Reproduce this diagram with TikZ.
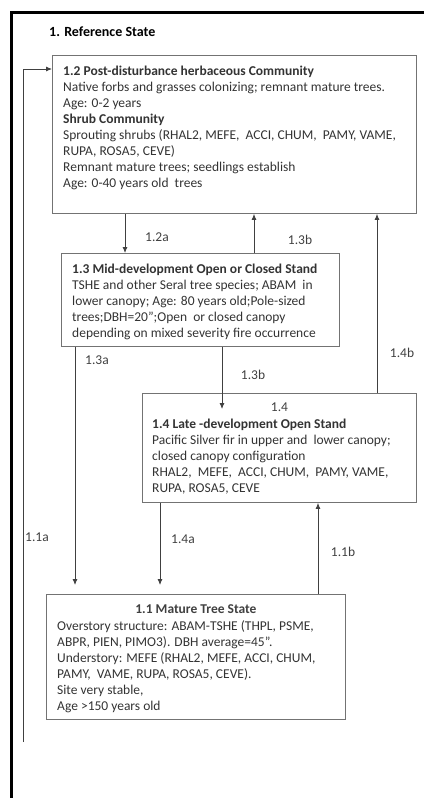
\documentclass[tikz,border=0pt]{standalone}
\usepackage{fontspec}
\setmainfont{Carlito}
\usetikzlibrary{positioning,arrows.meta}

\tikzset{
  box/.style={draw=black!55, line width=0.9pt, anchor=north west, inner sep=0pt},
  txt/.style={anchor=north west, inner sep=0pt, align=left, text=black!80,
    font=\fontsize{13.5}{16}\selectfont},
  lbl/.style={inner sep=0pt, text=black!75, font=\fontsize{13.5}{15}\selectfont},
  flow/.style={draw=black!75, line width=0.8pt, -{Latex[length=6pt,width=5pt]}},
}

\begin{document}
\begin{tikzpicture}[x=1pt,y=-1pt]

  \useasboundingbox (0,0) rectangle (424,798);

  % outer frame, cut at the page edge
  \draw[line width=3pt] (11.5,798) -- (11.5,12) -- (424,12);
  \node[anchor=west, inner sep=0pt, font=\bfseries\fontsize{14}{17}\selectfont]
    (title) at (49,32) {1. Reference State};

  % boxes
  \node[box, minimum width=364pt, minimum height=158pt] (b12) at (52,55) {};
  \node[box, minimum width=278pt, minimum height=93pt]  (b13) at (61,253) {};
  \node[box, minimum width=274pt, minimum height=109pt] (b14) at (142,393) {};
  \node[box, minimum width=299pt, minimum height=125pt] (b11) at (46,594) {};

  % texts
  \node[txt, below right=11pt and 11pt of b12.north west] (t12) {%
    \textbf{1.2 Post-disturbance\ herbaceous\ Community}\\
    Native forbs and grasses colonizing; remnant mature trees.\\
    Age: 0-2 years\\
    \textbf{Shrub Community}\\
    Sprouting shrubs (RHAL2, MEFE,\ \ ACCI, CHUM,\ \ PAMY, VAME,\\
    RUPA, ROSA5,\ CEVE)\\
    Remnant mature trees; seedlings establish\\
    Age: 0-40 years old\ \ trees};
  \node[txt, below right=11pt and 11pt of b13.north west] (t13) {%
    \textbf{1.3 Mid-development Open or Closed Stand}\\
    TSHE and other Seral tree species; ABAM\ \ in\\
    lower canopy; Age: 80 years old;Pole-sized\\
    trees;DBH=20";Open\ \ or closed canopy\\
    depending on mixed severity fire occurrence};
  \node[lbl, below=10pt of b14.north] (h14) {1.4};
  \node[txt, below right=26pt and 10pt of b14.north west] (t14) {%
    \textbf{1.4 Late -development Open Stand}\\
    Pacific Silver fir in upper and\ \ lower canopy;\\
    closed canopy configuration\\
    RHAL2,\ \ MEFE,\ \ ACCI, CHUM,\ \ PAMY, VAME,\\
    RUPA, ROSA5, CEVE};
  \node[lbl, below=10pt of b11.north, font=\bfseries\fontsize{13.5}{15}\selectfont] (h11)
    {1.1 Mature Tree State};
  \node[txt, below right=26pt and 11pt of b11.north west] (t11) {%
    Overstory structure: ABAM-TSHE (THPL, PSME,\\
    ABPR, PIEN, PIMO3). DBH average=45".\\
    Understory: MEFE (RHAL2, MEFE, ACCI, CHUM,\\
    PAMY,\ \ VAME, RUPA, ROSA5, CEVE).\\
    Site very stable,\\
    Age >150 years old};

  % transitions
  \coordinate (a11) at (23,742);
  \coordinate (k11) at (23,69);
  \draw[flow] (a11) -- (k11) -- (b12.west |- k11);
  \draw[flow] (b12.south -| 125,0) -- (b13.north -| 125,0);
  \draw[flow] (b13.north -| 254,0) -- (b12.south -| 254,0);
  \draw[flow] (b14.north -| 377,0) -- (b12.south -| 377,0);
  \draw[flow, shorten >=9pt] (b13.south -| 75,0) -- (b11.north -| 75,0);
  \draw[flow, shorten >=-16pt] (b13.south -| 222,0) -- (b14.north -| 222,0);
  \draw[flow, shorten >=9pt] (b14.south -| 160,0) -- (b11.north -| 160,0);
  \draw[flow] (b11.north -| 318,0) -- (b14.south -| 318,0);

  % labels
  \node[lbl] (l12a) at (157,237) {1.2a};
  \node[lbl] (l13b) at (300,240) {1.3b};
  \node[lbl] (l14b) at (402,353) {1.4b};
  \node[lbl] (l13a) at (97,360) {1.3a};
  \node[lbl] (l13c) at (253,375) {1.3b};
  \node[lbl] (l11a) at (37,537) {1.1a};
  \node[lbl] (l14a) at (183,539) {1.4a};
  \node[lbl] (l11b) at (343,552) {1.1b};

\end{tikzpicture}
\end{document}
